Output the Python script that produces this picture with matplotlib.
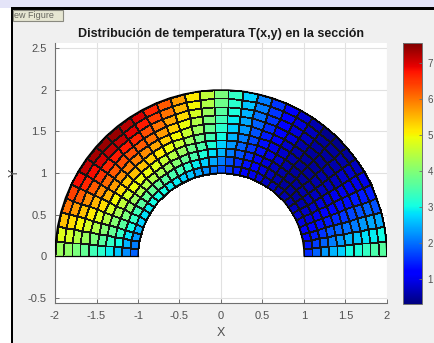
import numpy as np
import matplotlib
matplotlib.use("Agg")
import matplotlib.pyplot as plt
from matplotlib.patches import Rectangle

# ---------------- data ----------------
r_inner, r_outer = 1.0, 2.0
n_radial, n_angular = 10, 35
clim = (0.3, 7.55)
title = "Distribución de temperatura T(x,y) en la sección"
xticks = [-2, -1.5, -1, -0.5, 0, 0.5, 1, 1.5, 2]
yticks = [-0.5, 0, 0.5, 1, 1.5, 2, 2.5]
cbar_ticks = [1, 2, 3, 4, 5, 6, 7]

# temperature per cell: rows = rings (inner -> outer), columns = sectors (x>0 side -> x<0 side)
T_ring0 = [1.5,1.35,1.2,1.1,0.9,0.8,0.7,0.6,0.6,0.6,0.7,0.7,0.9,1.0,1.2,1.4,1.6,1.8,2.0,2.2,2.4,2.6,2.7,2.9,2.9,3.0,3.0,3.0,2.9,2.8,2.7,2.5,2.3,2.1,1.9]
T_ring1 = [1.9,1.65,1.4,1.2,0.9,0.8,0.6,0.5,0.5,0.5,0.6,0.7,0.9,1.1,1.3,1.5,1.8,2.1,2.4,2.7,2.9,3.2,3.4,3.5,3.6,3.7,3.7,3.7,3.6,3.4,3.3,3.0,2.8,2.5,2.2]
T_ring2 = [2.3,1.9,1.6,1.3,1.0,0.8,0.7,0.6,0.5,0.5,0.6,0.7,0.9,1.2,1.5,1.8,2.1,2.5,2.8,3.1,3.5,3.7,4.0,4.2,4.3,4.4,4.4,4.4,4.2,4.1,3.9,3.6,3.3,3.0,2.6]
T_ring3 = [2.5,2.1,1.8,1.4,1.1,0.9,0.7,0.6,0.5,0.5,0.6,0.8,1.0,1.3,1.6,1.9,2.3,2.7,3.1,3.5,3.8,4.2,4.4,4.6,4.8,4.9,4.9,4.9,4.7,4.5,4.3,4.0,3.7,3.3,2.9]
T_ring4 = [2.7,2.3,1.9,1.5,1.2,0.9,0.7,0.6,0.5,0.5,0.6,0.8,1.0,1.3,1.7,2.1,2.5,3.0,3.4,3.8,4.2,4.6,4.9,5.1,5.3,5.4,5.4,5.3,5.2,5.0,4.7,4.4,4.0,3.6,3.2]
T_ring5 = [3.0,2.5,2.0,1.6,1.3,1.0,0.7,0.6,0.5,0.5,0.6,0.8,1.1,1.4,1.8,2.3,2.7,3.2,3.7,4.2,4.6,5.0,5.3,5.6,5.8,5.9,5.9,5.8,5.7,5.5,5.2,4.8,4.4,3.9,3.4]
T_ring6 = [3.1,2.6,2.1,1.7,1.3,1.0,0.7,0.6,0.5,0.5,0.6,0.9,1.1,1.5,1.9,2.4,2.9,3.4,3.9,4.4,4.9,5.3,5.7,6.0,6.2,6.3,6.3,6.2,6.1,5.8,5.5,5.1,4.7,4.2,3.7]
T_ring7 = [3.3,2.8,2.3,1.8,1.4,1.0,0.8,0.6,0.5,0.5,0.7,0.9,1.2,1.6,2.0,2.5,3.1,3.6,4.2,4.7,5.2,5.6,6.0,6.3,6.6,6.7,6.7,6.6,6.5,6.2,5.8,5.4,5.0,4.4,3.9]
T_ring8 = [3.5,2.9,2.4,1.9,1.4,1.0,0.8,0.6,0.5,0.5,0.7,0.9,1.2,1.6,2.1,2.6,3.2,3.8,4.4,5.0,5.5,6.0,6.4,6.7,6.9,7.1,7.1,7.0,6.8,6.6,6.2,5.7,5.2,4.7,4.1]
T_ring9 = [3.6,3.0,2.4,1.8,1.4,1.0,0.7,0.5,0.4,0.4,0.6,0.8,1.2,1.6,2.1,2.7,3.3,3.9,4.5,5.1,5.7,6.2,6.6,7.0,7.2,7.4,7.4,7.3,7.1,6.8,6.4,6.0,5.4,4.8,4.2]

# ---------------- figure ----------------
W, H = 435, 343
fig = plt.figure(figsize=(W / 100, H / 100), dpi=100, facecolor="#f0f0f0")
plt.rcParams["font.family"] = ["Liberation Sans", "DejaVu Sans"]

def px_rect(x0, y0_top, x1, y1_top, **kw):
    # rectangle given in pixel coords measured from the top-left corner
    fig.add_artist(Rectangle((x0 / W, 1 - y1_top / H), (x1 - x0) / W, (y1_top - y0_top) / H,
                             transform=fig.transFigure, zorder=-1, **kw))

# window decoration of the screenshot
px_rect(0, 0, W, 7.5, facecolor="#e4e4f8", edgecolor="none")
px_rect(0, 7.5, 11, H, facecolor="white", edgecolor="none")
px_rect(11, 7.5, W, 9.8, facecolor="black", edgecolor="none")
px_rect(11, 7.5, 13.3, H, facecolor="black", edgecolor="none")
px_rect(13.5, 10, 63, 20.5, facecolor="#e6e6d2", edgecolor="#8a8a80", linewidth=0.8)
fig.text(14.5 / W, 1 - 15.5 / H, "ew Figure", fontsize=6.5, color="#66665e", va="center", ha="left")

ax = fig.add_axes([55 / W, 1 - 303 / H, 332 / W, 260 / H])
T = np.array([T_ring0, T_ring1, T_ring2, T_ring3, T_ring4,
              T_ring5, T_ring6, T_ring7, T_ring8, T_ring9])

r_edges = np.linspace(r_inner, r_outer, n_radial + 1)
th_edges = np.linspace(0, np.pi, n_angular + 1)
RR, TH = np.meshgrid(r_edges, th_edges, indexing="ij")
X = RR * np.cos(TH)
Y = RR * np.sin(TH)

mesh = ax.pcolormesh(X, Y, T, cmap="jet", vmin=clim[0], vmax=clim[1],
                     edgecolors="#151515", linewidth=0.55, shading="flat", zorder=2)
# outline of the section
ax.plot(X[-1], Y[-1], color="black", lw=1.1, zorder=3)
ax.plot(X[0], Y[0], color="black", lw=0.8, zorder=3)
ax.plot([X[0, 0], X[-1, 0]], [Y[0, 0], Y[-1, 0]], color="black", lw=0.9, zorder=3)
ax.plot([X[0, -1], X[-1, -1]], [Y[0, -1], Y[-1, -1]], color="black", lw=0.9, zorder=3)

ax.set_xlim(-2, 2)
ax.set_ylim(-0.565, 2.565)
ax.set_xticks(xticks)
ax.set_yticks(yticks)
ax.set_xticklabels([f"{v:g}" for v in xticks])
ax.set_yticklabels([f"{v:g}" for v in yticks])
ax.set_facecolor("white")
ax.grid(True, color="#e1e1e1", linewidth=0.8)
ax.set_axisbelow(True)
for side in ["top", "right"]:
    ax.spines[side].set_visible(False)
for side in ["left", "bottom"]:
    ax.spines[side].set_color("#707070")
    ax.spines[side].set_linewidth(0.8)
ax.tick_params(direction="in", length=3, width=0.7, colors="#707070",
               labelcolor="#505050", labelsize=8, pad=6)
ax.set_title(title, fontsize=9, fontweight="bold", color="#1a1a1a", pad=4)
ax.set_xlabel("X", fontsize=9, color="#505050")
ax.xaxis.set_label_coords(0.5, -0.092)
ax.set_ylabel("Y", fontsize=9, color="#505050")
ax.yaxis.set_label_coords(-0.104, 0.5)

cax = fig.add_axes([403 / W, 1 - 304 / H, 19 / W, 261.3 / H])
cb = fig.colorbar(mesh, cax=cax, ticks=cbar_ticks)
cb.outline.set_edgecolor("#707070")
cb.outline.set_linewidth(0.7)
cax.tick_params(direction="in", length=2, width=0.6, colors="#707070",
                labelcolor="#505050", labelsize=7, pad=4)

fig.savefig("out.png", dpi=100, facecolor=fig.get_facecolor())
